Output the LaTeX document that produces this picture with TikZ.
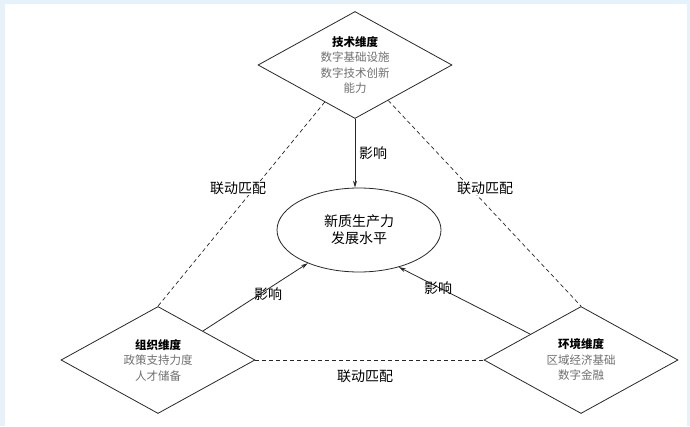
\documentclass[tikz,border=0pt]{standalone}
\usepackage{fontspec}
\usepackage{xcolor}
\usepackage{tikz}
\usetikzlibrary{arrows.meta, positioning, shapes.geometric}
\newfontfamily\cjk{Noto Sans CJK SC}
\definecolor{frameblue}{RGB}{230, 241, 250}
\definecolor{subgray}{RGB}{112, 112, 112}
\definecolor{linegray}{RGB}{40, 40, 40}

\begin{document}
\begin{tikzpicture}[x=1pt, y=1pt,
        dim/.style={diamond, draw=linegray, line width=0.8pt, inner sep=0pt, aspect=1.8, minimum width=194pt, minimum height=107pt, align=center, text=subgray, font=\cjk\fontsize{11.5}{15.5}\selectfont},
        core/.style={ellipse, draw=linegray, line width=0.8pt, minimum width=164pt, minimum height=84pt, align=center, font=\cjk\fontsize{14}{17}\selectfont},
        arrow/.style={-{Stealth[length=7pt, width=4pt]}, line width=0.8pt, draw=linegray},
        link/.style={draw=linegray, line width=0.7pt, dash pattern=on 4pt off 3pt},
        tag/.style={font=\cjk\fontsize{14}{16}\selectfont, inner sep=1pt}
    ]
        \useasboundingbox (0,0) rectangle (690,426);
        \fill[frameblue] (0,0) rectangle (690,426);
        \fill[white] (5,0) rectangle (687,422);
        % dimensions and core
        \node[dim] (tech) at (355,361) {{\color{black}\bfseries 技术维度}\\数字基础设施\\数字技术创新\\能力};
        \node[dim] (org) at (158,66) {{\color{black}\bfseries 组织维度}\\政策支持力度\\人才储备};
        \node[dim] (env) at (581,66) {{\color{black}\bfseries 环境维度}\\区域经济基础\\数字金融};
        \node[core] (nqp) at (359,196) {新质生产力\\发展水平};
        % influence
        \draw[arrow] (tech.south) -- (tech.south |- nqp.north);
        \draw[arrow] (org) -- (nqp.213);
        \draw[arrow] (env) -- (nqp.317);
        % linkage
        \draw[link] (tech) -- (org.north);
        \draw[link] (tech) -- (env.north);
        \draw[link] (org.east) -- (env.west);
        % labels
        \node[tag] (inflTech) at (373,273) {影响};
        \node[tag] (inflOrg) at (268,132) {影响};
        \node[tag] (inflEnv) at (438,138) {影响};
        \node[tag, fill=white] (linkLeft) at (238,238) {联动匹配};
        \node[tag, fill=white] (linkRight) at (485,238) {联动匹配};
        \node[tag] (linkBottom) at (365,50) {联动匹配};
    \end{tikzpicture}
\end{document}
